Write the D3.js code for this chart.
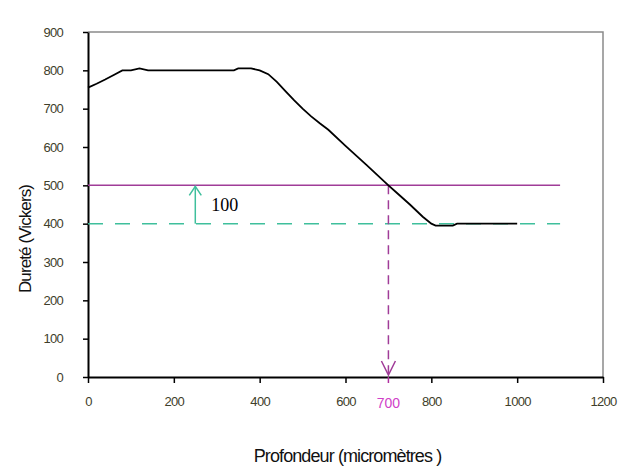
<!DOCTYPE html>
<html>
<head>
<meta charset="utf-8">
<script src="https://cdn.jsdelivr.net/npm/d3@7"></script>
<style>
  body { margin: 0; background: #fff; }
  svg { display: block; }
</style>
</head>
<body>
<div id="chart"></div>
<script>
// Depth (micrometres) and hardness (Vickers)
const depth = [0, 20, 40, 60, 80, 100, 120, 140, 200, 300, 340, 350, 380, 400, 420, 440, 460, 480, 500, 520, 540, 560, 600, 650, 700, 720, 750, 780, 800, 810, 850, 860, 900, 1000];
const hardness = [755, 765, 776, 788, 800, 800, 805, 800, 800, 800, 800, 805, 805, 800, 790, 770, 746, 722, 700, 680, 662, 645, 603, 552, 500, 480, 450, 418, 400, 395, 395, 400, 400, 400];

const xTicks = [0, 200, 400, 600, 800, 1000, 1200];
const yTicks = [0, 100, 200, 300, 400, 500, 600, 700, 800, 900];

// reference lines
const targetHardness = 500;   // magenta line
const coreHardness = 400;     // green dashed line
const lineEnd = 1100;
const targetDepth = 700;
const deltaX = 250;           // where the "100" arrow sits
const deltaLabel = "100";

const width = 621, height = 470;
const x = d3.scaleLinear().domain([0, 1200]).range([88, 603]);
const y = d3.scaleLinear().domain([0, 900]).range([377, 32]);

const svg = d3.select("#chart").append("svg")
  .attr("width", width)
  .attr("height", height);

// plot frame (top and right, grey)
svg.append("path")
  .attr("d", `M${x(0)},${y(900)}H${x(1200)}V${y(0)}`)
  .attr("fill", "none")
  .attr("stroke", "#8a8a8a")
  .attr("stroke-width", 1.5);

// axes
const tickColor = "#3e3e2a";
const xAxis = svg.append("g")
  .attr("transform", `translate(0,${y(0)})`)
  .call(d3.axisBottom(x).tickValues(xTicks).tickFormat(d3.format("d"))
    .tickSize(6).tickPadding(14).tickSizeOuter(0));
const yAxis = svg.append("g")
  .attr("transform", `translate(${x(0)},0)`)
  .call(d3.axisLeft(y).tickValues(yTicks).tickFormat(d3.format("d"))
    .tickSize(5).tickPadding(20).tickSizeOuter(0));

[xAxis, yAxis].forEach(g => {
  g.select(".domain").attr("stroke", "#000").attr("stroke-width", 2);
  g.selectAll(".tick line").attr("stroke", "#000").attr("stroke-width", 1.5);
  g.selectAll(".tick text")
    .attr("fill", tickColor)
    .attr("font-family", "Liberation Sans, Arial, sans-serif")
    .attr("font-size", 13)
    .attr("letter-spacing", -0.7);
});

// extra tick for 700 in magenta
svg.append("line")
  .attr("x1", x(targetDepth)).attr("x2", x(targetDepth))
  .attr("y1", y(0)).attr("y2", y(0) + 6)
  .attr("stroke", "#b030a0").attr("stroke-width", 1.5);
svg.append("text")
  .attr("x", x(targetDepth)).attr("y", y(0) + 31)
  .attr("text-anchor", "middle")
  .attr("fill", "#d040c8")
  .attr("font-family", "Liberation Sans, Arial, sans-serif")
  .attr("font-size", 14)
  .text(String(targetDepth));

// axis titles
svg.append("text")
  .attr("x", x(600) + 2).attr("y", 462)
  .attr("text-anchor", "middle")
  .attr("font-family", "Liberation Sans, Arial, sans-serif")
  .attr("font-size", 18)
  .attr("letter-spacing", -0.9)
  .attr("fill", "#111")
  .text("Profondeur (micromètres )");

svg.append("text")
  .attr("transform", `translate(31,${y(360)}) rotate(-90)`)
  .attr("text-anchor", "middle")
  .attr("font-family", "Liberation Sans, Arial, sans-serif")
  .attr("font-size", 17)
  .attr("letter-spacing", -0.9)
  .attr("fill", "#111")
  .text("Dureté (Vickers)");

// horizontal reference lines
svg.append("line")
  .attr("x1", x(0)).attr("x2", x(lineEnd))
  .attr("y1", y(coreHardness)).attr("y2", y(coreHardness))
  .attr("stroke", "#3fbf9c").attr("stroke-width", 1.5)
  .attr("stroke-dasharray", "15,12");

svg.append("line")
  .attr("x1", x(0)).attr("x2", x(lineEnd))
  .attr("y1", y(targetHardness)).attr("y2", y(targetHardness))
  .attr("stroke", "#a03c98").attr("stroke-width", 1.5);

// green arrow (100 difference)
svg.append("line")
  .attr("x1", x(deltaX)).attr("x2", x(deltaX))
  .attr("y1", y(coreHardness)).attr("y2", y(targetHardness) + 1)
  .attr("stroke", "#3fbf9c").attr("stroke-width", 1.5);
svg.append("path")
  .attr("d", `M${x(deltaX) - 6},${y(targetHardness) + 10}L${x(deltaX)},${y(targetHardness) + 1}L${x(deltaX) + 6},${y(targetHardness) + 10}`)
  .attr("fill", "none")
  .attr("stroke", "#3fbf9c").attr("stroke-width", 1.5);
svg.append("text")
  .attr("x", x(deltaX) + 16).attr("y", y((coreHardness + targetHardness) / 2) + 6)
  .attr("font-family", "Liberation Serif, Times New Roman, serif")
  .attr("font-size", 18)
  .attr("fill", "#000")
  .text(deltaLabel);

// vertical magenta dashed arrow down to 700
svg.append("line")
  .attr("x1", x(targetDepth)).attr("x2", x(targetDepth))
  .attr("y1", y(targetHardness)).attr("y2", y(0) - 2)
  .attr("stroke", "#a03c98").attr("stroke-width", 1.5)
  .attr("stroke-dasharray", "9,6");
svg.append("path")
  .attr("d", `M${x(targetDepth) - 7},${y(0) - 16}L${x(targetDepth)},${y(0) - 2}L${x(targetDepth) + 7},${y(0) - 16}`)
  .attr("fill", "none")
  .attr("stroke", "#a03c98").attr("stroke-width", 1.5);

// hardness profile
const pts = depth.map((d, i) => [d, hardness[i]]);
svg.append("path")
  .datum(pts)
  .attr("fill", "none")
  .attr("stroke", "#000")
  .attr("stroke-width", 1.8)
  .attr("d", d3.line().x(d => x(d[0])).y(d => y(d[1])));
</script>
</body>
</html>
